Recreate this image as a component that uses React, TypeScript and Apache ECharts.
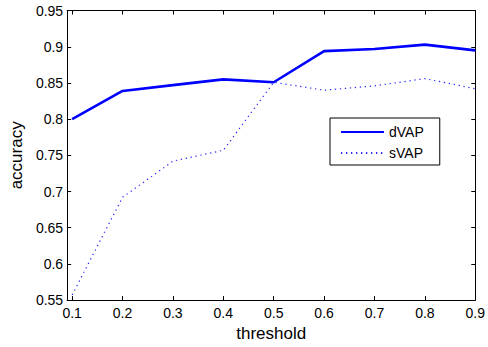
import React, { useEffect, useRef } from "react";
import * as echarts from "echarts";

const thresholds = [0.1, 0.2, 0.3, 0.4, 0.5, 0.6, 0.7, 0.8, 0.9];
const dVAP = [0.8, 0.839, 0.847, 0.855, 0.851, 0.894, 0.897, 0.903, 0.895];
const sVAP = [0.557, 0.692, 0.742, 0.757, 0.851, 0.84, 0.846, 0.856, 0.842];
const xTicks = [0.1, 0.2, 0.3, 0.4, 0.5, 0.6, 0.7, 0.8, 0.9];
const yTicks = [0.55, 0.6, 0.65, 0.7, 0.75, 0.8, 0.85, 0.9, 0.95];

const FONT = "Liberation Sans, Arial, Helvetica, sans-serif";

export default function App() {
  const ref = useRef<HTMLDivElement>(null);
  useEffect(() => {
    if (!ref.current) return;
    const chart = echarts.init(ref.current, null, { renderer: "svg" });
    const axisLine = { show: true, lineStyle: { color: "#000", width: 1 } };
    const tickStyle = { color: "#000", width: 1 };
    chart.setOption({
      animation: false,
      backgroundColor: "#fff",
      textStyle: { fontFamily: FONT },
      grid: { left: 66, right: 11.5, top: 10.6, bottom: 42.2, containLabel: false },
      legend: {
        left: 330,
        top: 118,
        orient: "vertical",
        backgroundColor: "#fff",
        borderColor: "#000",
        borderWidth: 1,
        borderRadius: 0,
        padding: [7, 16, 5, 10],
        itemWidth: 43,
        itemHeight: 14,
        itemGap: 7,
        itemStyle: { opacity: 0 },
        textStyle: { fontFamily: FONT, fontSize: 14, color: "#000", padding: [0, 0, 0, 0] },
        data: ["dVAP", "sVAP"],
      },
      xAxis: [
        {
          type: "value",
          position: "bottom",
          min: 0.0901,
          max: 0.9,
          axisLine,
          splitLine: { show: false },
          axisTick: { show: true, inside: true, length: 4, lineStyle: tickStyle, customValues: xTicks },
          axisLabel: {
            show: true,
            customValues: xTicks,
            color: "#000",
            fontFamily: FONT,
            fontSize: 14,
            margin: 6,
            formatter: (v: number) => String(+v.toFixed(2)),
          },
          name: "threshold",
          nameLocation: "middle",
          nameGap: 18,
          nameTextStyle: { fontFamily: FONT, fontSize: 17, color: "#000" },
        },
        {
          type: "value",
          position: "top",
          min: 0.0901,
          max: 0.9,
          axisLine,
          splitLine: { show: false },
          axisTick: { show: true, inside: true, length: 4, lineStyle: tickStyle, customValues: xTicks },
          axisLabel: { show: false },
        },
      ],
      yAxis: [
        {
          type: "value",
          position: "left",
          min: 0.55,
          max: 0.95,
          axisLine,
          splitLine: { show: false },
          axisTick: { show: true, inside: true, length: 4, lineStyle: tickStyle, customValues: yTicks },
          axisLabel: {
            show: true,
            customValues: yTicks,
            color: "#000",
            fontFamily: FONT,
            fontSize: 14,
            margin: 4,
            formatter: (v: number) => String(+v.toFixed(2)),
          },
          name: "accuracy",
          nameLocation: "middle",
          nameGap: 40,
          nameTextStyle: { fontFamily: FONT, fontSize: 17, color: "#000" },
        },
        {
          type: "value",
          position: "right",
          min: 0.55,
          max: 0.95,
          axisLine,
          splitLine: { show: false },
          axisTick: { show: true, inside: true, length: 4, lineStyle: tickStyle, customValues: yTicks },
          axisLabel: { show: false },
        },
      ],
      series: [
        {
          name: "dVAP",
          type: "line",
          xAxisIndex: 0,
          yAxisIndex: 0,
          symbol: "none",
          showSymbol: false,
          color: "#0000ff",
          lineStyle: { color: "#0000ff", width: 2.6, type: "solid" },
          data: thresholds.map((t, i) => [t, dVAP[i]]),
        },
        {
          name: "sVAP",
          type: "line",
          xAxisIndex: 0,
          yAxisIndex: 0,
          symbol: "none",
          showSymbol: false,
          color: "#2a2aff",
          lineStyle: { color: "#2a2aff", width: 1.2, type: [1.3, 3.7] },
          data: thresholds.map((t, i) => [t, sVAP[i]]),
        },
      ],
    });
    return () => chart.dispose();
  }, []);
  return (
    <div
      ref={ref}
      style={{ position: "fixed", left: 0, top: 0, width: 488, height: 347, background: "#fff" }}
    />
  );
}
